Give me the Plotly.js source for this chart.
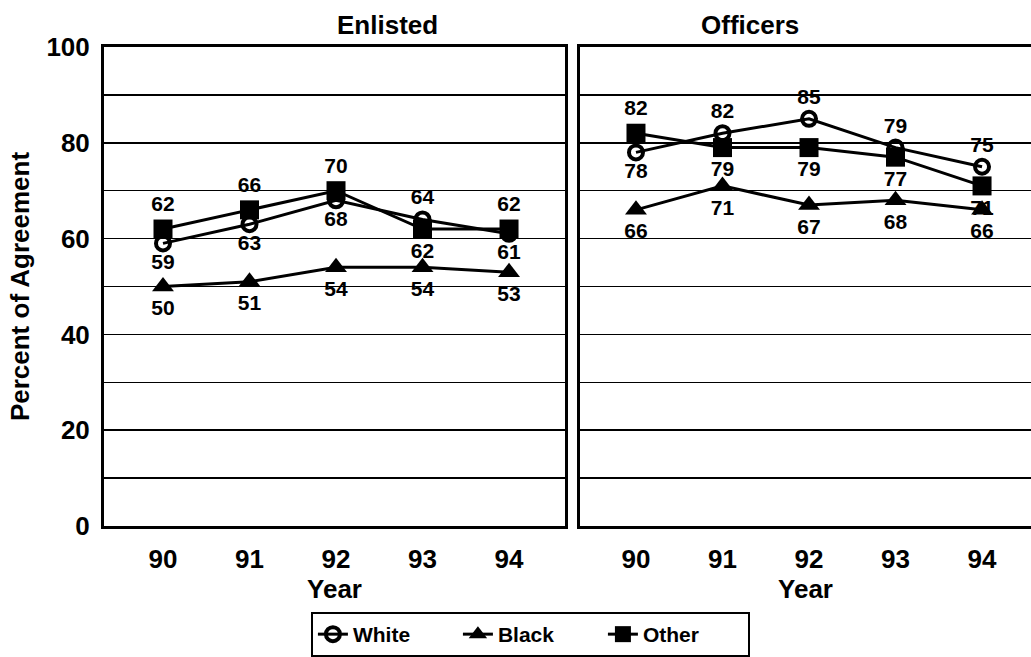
<!DOCTYPE html>
<html>
<head>
<meta charset="utf-8">
<script src="https://cdn.plot.ly/plotly-3.0.1.min.js"></script>
<style>html,body{margin:0;padding:0;background:#fff;}#chart{width:1031px;height:657px;}</style>
</head>
<body>
<div id="chart"></div>
<script>
// ---- data ----
var years = [90, 91, 92, 93, 94];
var yearLabels = ['90', '91', '92', '93', '94'];
var panels = ['Enlisted', 'Officers'];
var seriesNames = ['White', 'Black', 'Other'];

var enlistedWhite = [59, 63, 68, 64, 61];
var enlistedBlack = [50, 51, 54, 54, 53];
var enlistedOther = [62, 66, 70, 62, 62];

var officersWhite = [78, 82, 85, 79, 75];
var officersBlack = [66, 71, 67, 68, 66];
var officersOther = [82, 79, 79, 77, 71];

var yTickVals = [0, 10, 20, 30, 40, 50, 60, 70, 80, 90, 100];
var yTickText = ['0', '', '20', '', '40', '', '60', '', '80', '', '100'];

// label placement (above / below each point)
var posEnlistedWhite = ['bottom center', 'bottom center', 'bottom center', 'top center', 'bottom center'];
var posEnlistedBlack = ['bottom center', 'bottom center', 'bottom center', 'bottom center', 'bottom center'];
var posEnlistedOther = ['top center', 'top center', 'top center', 'bottom center', 'top center'];
var posOfficersWhite = ['bottom center', 'top center', 'top center', 'top center', 'top center'];
var posOfficersBlack = ['bottom center', 'bottom center', 'bottom center', 'bottom center', 'bottom center'];
var posOfficersOther = ['top center', 'bottom center', 'bottom center', 'bottom center', 'bottom center'];

var FONT = 'Liberation Sans, Arial, Helvetica, sans-serif';
var styles = {
  White: {symbol: 'circle-open', size: 14, line: {color: '#000', width: 4}, color: '#000'},
  Black: {symbol: 'triangle-up', size: 19, color: '#000'},
  Other: {symbol: 'square', size: 19, color: '#000'}
};

function mk(name, y, pos, xa, ya, showLegend) {
  return {
    type: 'scatter', mode: 'lines+markers+text', name: name,
    x: years, y: y, xaxis: xa, yaxis: ya,
    text: y.map(String), textposition: pos,
    textfont: {family: FONT, size: 21, color: '#000', weight: 'bold'},
    line: {color: '#000', width: 3},
    marker: styles[name],
    showlegend: showLegend, cliponaxis: false, hoverinfo: 'x+y'
  };
}

var data = [
  mk('White', enlistedWhite, posEnlistedWhite, 'x', 'y', true),
  mk('Black', enlistedBlack, posEnlistedBlack, 'x', 'y', true),
  mk('Other', enlistedOther, posEnlistedOther, 'x', 'y', true),
  mk('White', officersWhite, posOfficersWhite, 'x2', 'y2', false),
  mk('Black', officersBlack, posOfficersBlack, 'x2', 'y2', false),
  mk('Other', officersOther, posOfficersOther, 'x2', 'y2', false)
];

var tickFont = {family: FONT, size: 26, color: '#000', weight: 'bold'};
var xCommon = {
  tickvals: years, ticktext: yearLabels, ticks: '', tickfont: tickFont,
  showline: true, linecolor: '#000', linewidth: 3, mirror: true,
  showgrid: false, zeroline: false, ticklabelstandoff: 8,
  title: {text: 'Year', font: {family: FONT, size: 26, color: '#000', weight: 'bold'}, standoff: 2}
};

var layout = {
  width: 1031, height: 657,
  margin: {l: 104, r: 0, t: 47, b: 124},
  paper_bgcolor: '#fff', plot_bgcolor: '#fff',
  font: {family: FONT, color: '#000'},
  showlegend: true,
  legend: {
    orientation: 'h', x: 0.46, xanchor: 'center', y: -0.18, yanchor: 'top',
    bordercolor: '#000', borderwidth: 2, bgcolor: '#fff',
    font: {family: FONT, size: 21, color: '#000', weight: 'bold'},
    entrywidth: 100, entrywidthmode: 'pixels', tracegroupgap: 0
  },
  xaxis: Object.assign({}, xCommon, {domain: [0, 0.4973], range: [89.318, 94.647], anchor: 'y'}),
  xaxis2: Object.assign({}, xCommon, {domain: [0.5135, 1], range: [89.353, 94.566], anchor: 'y2'}),
  yaxis: {
    range: [0, 100], tickvals: yTickVals, ticktext: yTickText, ticks: '',
    tickfont: tickFont, ticklabelstandoff: 6,
    showline: true, linecolor: '#000', linewidth: 3, mirror: true,
    showgrid: true, gridcolor: '#000', gridwidth: 1.5, zeroline: false,
    title: {text: 'Percent of Agreement', font: {family: FONT, size: 26, color: '#000', weight: 'bold'}, standoff: 10},
    anchor: 'x'
  },
  yaxis2: {
    range: [0, 100], tickvals: yTickVals, showticklabels: false, ticks: '',
    showline: true, linecolor: '#000', linewidth: 3, mirror: false,
    showgrid: true, gridcolor: '#000', gridwidth: 1.5, zeroline: false,
    anchor: 'x2'
  },
  annotations: [
    {text: panels[0], xref: 'paper', yref: 'paper', x: 0.249, y: 1, yshift: 5, yanchor: 'bottom', showarrow: false,
     font: {family: FONT, size: 26, color: '#000', weight: 'bold'}},
    {text: panels[1], xref: 'paper', yref: 'paper', x: 0.752, y: 1, yshift: 5, yanchor: 'bottom', showarrow: false,
     font: {family: FONT, size: 26, color: '#000', weight: 'bold'}}
  ]
};

Plotly.newPlot('chart', data, layout, {displayModeBar: false, staticPlot: true});
</script>
</body>
</html>
